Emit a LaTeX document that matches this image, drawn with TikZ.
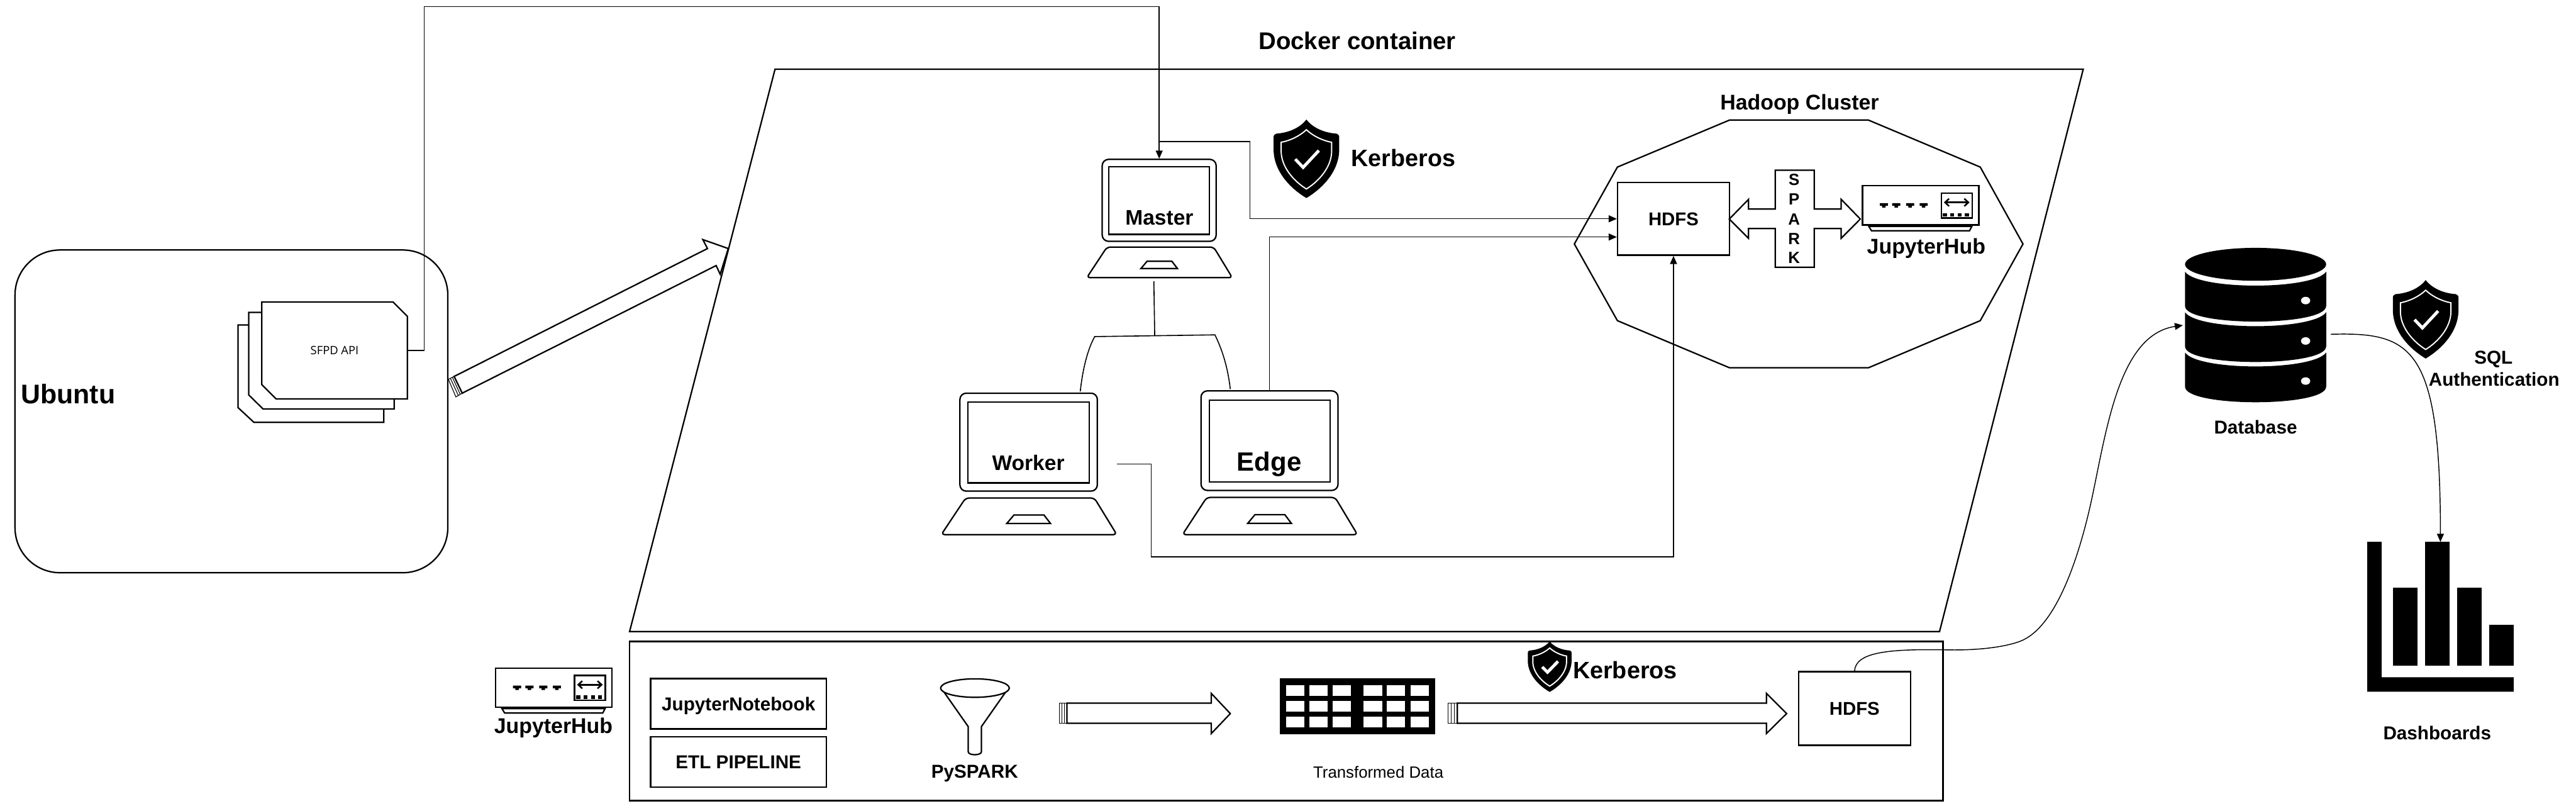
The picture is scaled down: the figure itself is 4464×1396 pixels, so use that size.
\documentclass[tikz,border=0pt]{standalone}
\usepackage{fontspec}
\setmainfont{Liberation Sans}
\newfontfamily\apifont{Open Sans}
\usetikzlibrary{arrows.meta,shapes.misc}
\tikzset{
  lbl/.style={inner sep=0pt,font=\bfseries\fontsize{#1pt}{#1pt}\selectfont,text height={0.716*#1pt},text depth=0pt},
  plainlbl/.style={inner sep=0pt,font=\fontsize{#1pt}{#1pt}\selectfont,text height={0.716*#1pt},text depth=0pt},
  shape line/.style={draw=black,line width=0.7pt,line join=miter},
  conn/.style={draw=black,line width=0.45pt},
  connarrow/.style={conn,-{Triangle[length=0.14cm,width=0.12cm,fill=black]}},
  boxnode/.style={shape line,rectangle,inner sep=0pt,minimum width={#1}},
}
\newcommand{\pxu}{0.01cm}
% shield: left, top, width, height
\newcommand{\shieldicon}[4]{%
  \begin{scope}[shift={(#1,#2)},xscale=#3,yscale=#4]
    \fill[black] (.5,0) .. controls (.6,.11) and (.78,.17) .. (.96,.18) .. controls (.99,.19) and (1,.2) .. (1,.23)
      -- (1,.38) .. controls (1,.65) and (.76,.87) .. (.5,1)
      .. controls (.24,.87) and (0,.65) .. (0,.38) -- (0,.23) .. controls (0,.2) and (.01,.19) .. (.04,.18)
      .. controls (.22,.17) and (.4,.11) .. (.5,0) -- cycle;
    \draw[white,line width=0.6pt] (.5,.13) .. controls (.6,.21) and (.75,.27) .. (.885,.29)
      -- (.885,.40) .. controls (.885,.6) and (.7,.78) .. (.5,.885)
      .. controls (.3,.78) and (.115,.6) .. (.115,.40) -- (.115,.29)
      .. controls (.25,.27) and (.4,.21) .. (.5,.13) -- cycle;
    \draw[white,line width=1.5pt] (.33,.505) -- (.45,.61) -- (.69,.395);
  \end{scope}}
% laptop: name, centre x, top, xscale, yscale, label node placed separately
\newcommand{\laptopicon}[5]{%
  \begin{scope}[shift={(#2,#3)},xscale=#4,yscale=#5]
    \node[shape line,rectangle,rounded corners=0.11cm,transform shape,inner sep=0pt,
      minimum width={197.5*\pxu},minimum height={142*\pxu}] (#1) at (0,71) {};
    \draw[shape line] (-87,13) rectangle (87,130);
    \draw[shape line,rounded corners=0.06cm] (-90.5,152) -- (94.5,152) -- (126.7,205) -- (-125.5,205) -- cycle;
    \draw[shape line] (-31.5,189) -- (31.5,189) -- (22,176.5) -- (-21,176.5) -- cycle;
  \end{scope}}
% jupyter hub device
\newcommand{\hubicon}[3]{%
  \begin{scope}[shift={(#2,#3)}]
    \node[shape line,rectangle,inner sep=0pt,minimum width={201.5*\pxu},minimum height={68*\pxu}] (#1) at (100.75,34) {};
    \draw[shape line] (10.9,70.4) -- (189.5,70.4) -- (185.5,78) -- (15.5,78) -- cycle;
    \foreach \cx in {37,58.5,82.5,106}{
      \fill[black] (\cx-7,30.4) -- (\cx+7,30.4) -- (\cx+7,35) -- (\cx+3,35) -- (\cx+3,38) -- (\cx-3,38) -- (\cx-3,35) -- (\cx-7,35) -- cycle;}
    \draw[shape line] (136.5,13) rectangle (190,56);
    \draw[line width=0.8pt,{Straight Barb[length=0.07cm,width=0.13cm]}-{Straight Barb[length=0.07cm,width=0.13cm]}] (141,29) -- (185.5,29);
    \foreach \cx in {143,155.5,168.5,181}{\fill[black] (\cx-3.5,47.5) rectangle (\cx+3.5,53.5);}
  \end{scope}}
% fat horizontal arrow: tail x, body x, head back x, tip x
\newcommand{\fatarrow}[4]{%
  \draw[shape line] (#2,1218) -- (#3,1218) -- (#3,1201) -- (#4,1236) -- (#3,1270.6) -- (#3,1252.7) -- (#2,1252.7) -- cycle;
  \draw[line width=0.35pt] (#1,1218) rectangle (#2,1252.7);
  \draw[line width=0.35pt] ({#1+(#2-#1)/3},1218) -- ({#1+(#2-#1)/3},1252.7);
  \draw[line width=0.35pt] ({#1+2*(#2-#1)/3},1218) -- ({#1+2*(#2-#1)/3},1252.7);}
\begin{document}
\begin{tikzpicture}[x=0.01cm,y=-0.01cm]
\useasboundingbox (0,0) rectangle (4464,1396);
\fill[white] (0,0) rectangle (4464,1396);

% Ubuntu
\node[shape line,rectangle,rounded corners=0.78cm,inner sep=0pt,minimum width={750*\pxu},minimum height={559*\pxu}] (ubuntu) at (401,712.5) {};
\node[lbl=13.3] (ubuntulbl) at (118,682) {Ubuntu};
\draw[shape line] (412.5,563) -- (640,563) -- (665,563) -- (665,731.5) -- (440,731.5) -- (412.5,706) -- cycle;
\draw[shape line,fill=white] (431,541) -- (683,541) -- (683,708.5) -- (456,708.5) -- (431,684) -- cycle;
\draw[shape line,fill=white] (453.6,523) -- (681,523) -- (706,548) -- (706,691) -- (478.6,691) -- (453.6,666) -- cycle;
\node[inner sep=0pt,minimum width={252.4*\pxu},minimum height={168*\pxu},font=\apifont\fontsize{5.7pt}{5.7pt}\selectfont] (api) at (579.8,607) {SFPD API};

% Docker container
\draw[shape line] (1343,120) -- (3610,120) -- (3361,1094) -- (1091,1094) -- cycle;
\node[lbl=11.9] (dockerlbl) at (2352,71) {Docker container};

% fat diagonal arrow
\draw[shape line] (787,652) -- (1226,430.5) -- (1218,415) -- (1262,430.5) -- (1248,475) -- (1241,460) -- (801,681) -- cycle;
\draw[line width=0.35pt] (777,657) -- (787,652) -- (801,681) -- (790,687.5) -- cycle;
\draw[line width=0.35pt] (780.5,655.3) -- (794,684.5);
\draw[line width=0.35pt] (784,653.5) -- (797.5,683);

% Hadoop cluster
\draw[shape line] (2997,208) -- (3237.8,208) -- (3431.6,289.4) -- (3505.6,422.6) -- (3431.6,555.4) -- (3237.8,637) -- (2997,637) -- (2802.8,555.4) -- (2728.2,422.6) -- (2802.8,289.4) -- cycle;
\node[lbl=10.5] (hadooplbl) at (3118.5,177) {Hadoop Cluster};
\node[boxnode={194*\pxu},minimum height={126*\pxu},lbl=9.1] (hdfs) at (2900,379) {HDFS};
\draw[shape line] (3076.4,294.8) -- (3144,294.8) -- (3144,362) -- (3190.6,362) -- (3190.6,345.3) -- (3223.7,379.4) -- (3190.6,412.7) -- (3190.6,395.8) -- (3144,395.8) -- (3144,462.8) -- (3076.4,462.8) -- (3076.4,395.8) -- (3030,395.8) -- (3030,412.7) -- (2996.7,379.4) -- (3030,345.3) -- (3030,362) -- (3076.4,362) -- cycle;
\node[lbl=8] (sparkS) at (3109,311) {S};
\node[lbl=8] (sparkP) at (3109,345) {P};
\node[lbl=8] (sparkA) at (3109,379.4) {A};
\node[lbl=8] (sparkR) at (3109,413) {R};
\node[lbl=8] (sparkK) at (3109,446) {K};
\hubicon{hubA}{3227.5}{321.6}
\node[lbl=10.5] (hubAlbl) at (3338,426) {JupyterHub};

% laptops
\laptopicon{master}{2008.75}{276}{1}{1}
\laptopicon{worker}{1782.5}{681}{1.206}{1.195}
\laptopicon{edge}{2200}{677}{1.2024}{1.2146}
\node[lbl=10.4] (masterlbl) at (2009,377) {Master};
\node[lbl=10.4] (workerlbl) at (1782,801) {Worker};
\node[lbl=13] (edgelbl) at (2199.5,799) {Edge};

\shieldicon{2207}{207}{113.7}{136}
\node[lbl=11.7] (kerb1) at (2432,273) {Kerberos};

% connectors
\coordinate (apiup) at (735,11.5);
\draw[connarrow] (api.east) -| (apiup) -- (apiup -| master.north) -- (master.north);
\coordinate (mstart) at (2008.75,245);
\coordinate (mbend) at (2166,379);
\draw[connarrow] (mstart) -| (mbend) -- (mbend -| hdfs.west);
\coordinate (ebend) at (2199.7,410.5);
\draw[connarrow] (edge.north -| ebend) -- (ebend) -- (ebend -| hdfs.west);
\coordinate (wstart) at (1935,803.6);
\coordinate (wbend) at (1995,964.6);
\draw[connarrow] (wstart) -| (wbend) -- (wbend -| hdfs.south) -- (hdfs.south);
\coordinate (ttop) at (1999.5,487);
\coordinate (tmid) at (2001,581.4);
\coordinate (tl) at (1897,583);
\coordinate (tr) at (2105.4,580);
\coordinate (tle) at (1872,678);
\coordinate (tre) at (2132,674);
\draw[line width=0.5pt] (ttop) -- (tmid);
\draw[line width=0.5pt] (tle) .. controls (1875,650) and (1882,610) .. (tl) -- (tr) .. controls (2120,610) and (2128,640) .. (tre);

% Bottom box
\node[shape line,rectangle,inner sep=0pt,line width=0.85pt,minimum width={2276*\pxu},minimum height={275.4*\pxu}] (etlbox) at (2229,1248.7) {};
\hubicon{hubB}{859}{1157}
\node[lbl=10.5] (hubBlbl) at (959,1257) {JupyterHub};
\node[boxnode={304.5*\pxu},minimum height={87*\pxu},lbl=9.2] (jnb) at (1279.7,1219) {JupyterNotebook};
\node[boxnode={304.5*\pxu},minimum height={87*\pxu},lbl=9.2] (etl) at (1279.7,1320) {ETL PIPELINE};
% funnel
\draw[shape line] (1635.7,1198.5) -- (1677.8,1258.5) -- (1677.8,1302) .. controls (1677.8,1309) and (1700.7,1309) .. (1700.7,1302) -- (1700.7,1258.5) -- (1742.8,1198.5);
\draw[shape line,fill=white] (1689.5,1191.8) ellipse (59.5 and 16);
\node[lbl=9.2] (pyspark) at (1689,1336) {PySPARK};
\fatarrow{1835.4}{1849}{2099}{2132}
% table
\fill[black] (2217.4,1175) rectangle (2487.5,1272);
\foreach \xa/\xb in {2228.5/2260,2269/2300.6,2309/2341,2362.6/2395,2403/2435,2444/2476.4}{
  \foreach \ya/\yb in {1187/1205.6,1214/1232.5,1241/1260}{
    \fill[white] (\xa,\ya) rectangle (\xb,\yb);}}
\node[plainlbl=8] (translbl) at (2388.5,1337.6) {Transformed Data};
\fatarrow{2509.7}{2525.4}{3061}{3096}
\shieldicon{2647.5}{1111}{75.9}{87.5}
\node[lbl=11.7] (kerb2) at (2816,1161) {Kerberos};
\node[boxnode={194.2*\pxu},minimum height={127.5*\pxu},lbl=9.1] (hdfsB) at (3213.7,1227.2) {HDFS};

% Database
\fill[black] (3908.7,457.8) ellipse (122.3 and 28.5);
\foreach \ys/\yb in {470.7/530,541/600,610.7/669.7}{
  \fill[black] (3786.4,\ys) .. controls (3810,{\ys+32}) and (4007,{\ys+32}) .. (4031,\ys)
    -- (4031,\yb) .. controls (4031,{\yb+36}) and (3786.4,{\yb+36}) .. (3786.4,\yb) -- cycle;}
\foreach \yd in {520.6,590.6,660}{\fill[white] (3995.4,\yd) ellipse (8 and 6.5);}
\coordinate (dbleft) at (3782.7,563.4);
\coordinate (dbright) at (4039,579);
\node[lbl=9.2] (dblbl) at (3908.7,739.7) {Database};

\shieldicon{4146.6}{485}{113.7}{136}
\node[lbl=9.2] (sqllbl) at (4321,618.5) {SQL};
\node[lbl=9.2] (authlbl) at (4322,657) {Authentication};

% Dashboards
\fill[black] (4102.3,938.6) -- (4127,938.6) -- (4127,1173) -- (4356,1173) -- (4356,1198) -- (4102.3,1198) -- cycle;
\fill[black] (4146.6,1018.4) rectangle (4189.6,1152.5);
\fill[black] (4202.5,938.6) rectangle (4245,1152.5);
\fill[black] (4257.8,1018.4) rectangle (4300.9,1152.5);
\fill[black] (4313,1082) rectangle (4356,1152.5);
\coordinate (dashtop) at (4229,938.6);
\node[lbl=9.2] (dashlbl) at (4223.4,1269) {Dashboards};

% curves
\draw[connarrow] (hdfsB.north) .. controls (3216,1130) and (3270,1124) .. (3369,1125.5)
  .. controls (3420,1127) and (3470,1122) .. (3500,1111)
  .. controls (3560,1089) and (3600,975) .. (3623,872.5)
  .. controls (3650,750) and (3670,580) .. (dbleft);
\draw[connarrow] (dbright) .. controls (4180,575) and (4229,600) .. (dashtop);
\end{tikzpicture}
\end{document}
